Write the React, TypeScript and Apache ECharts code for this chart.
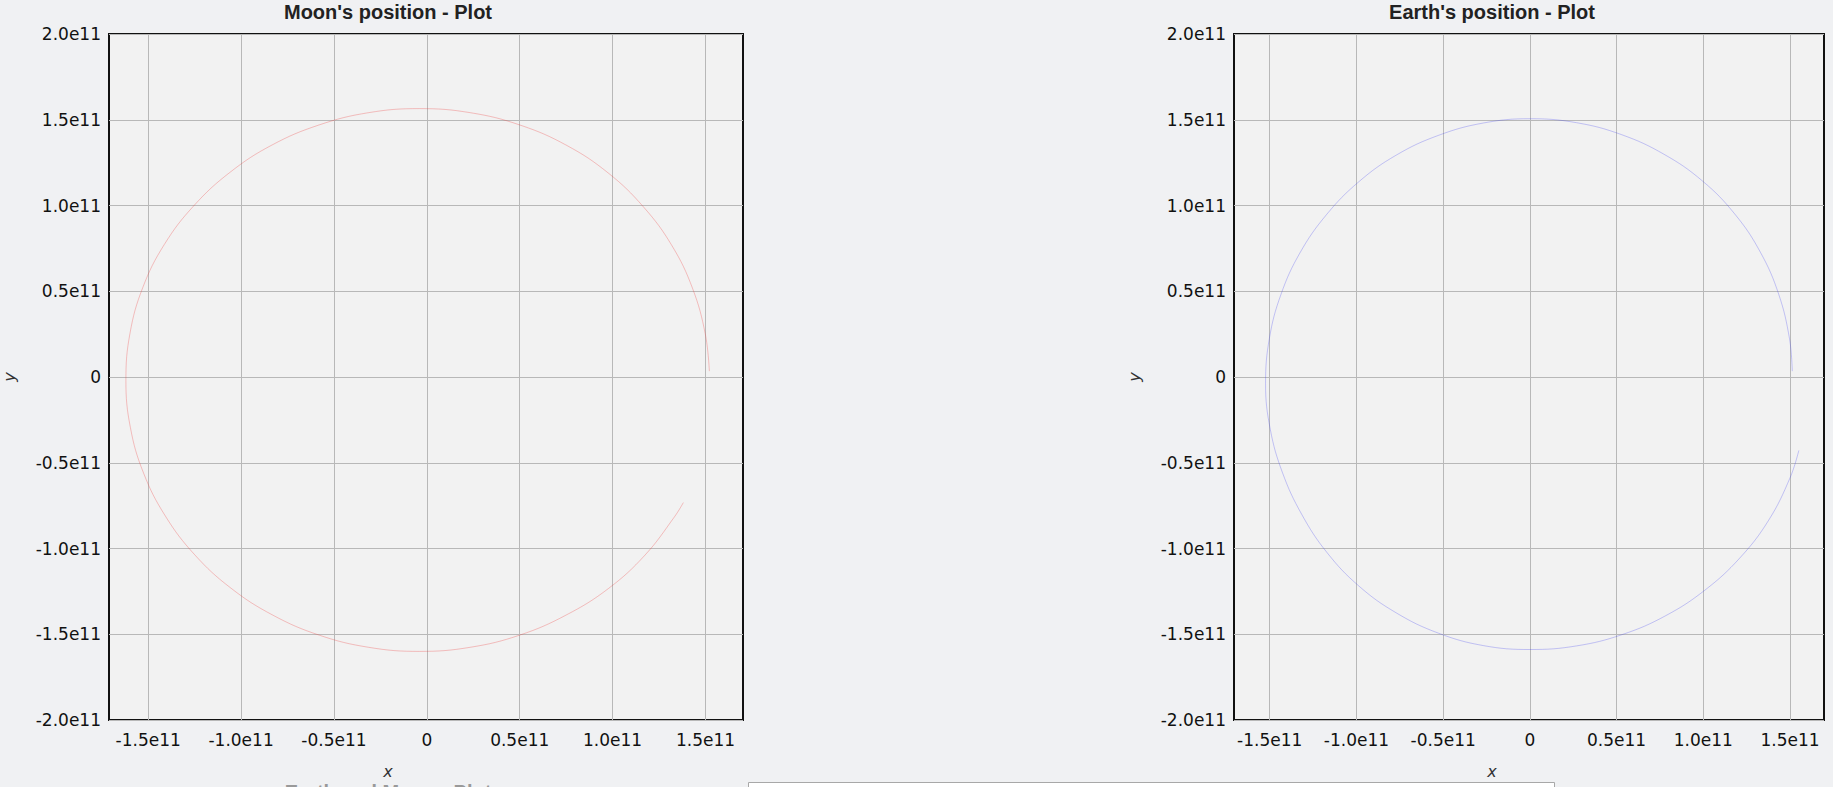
import React, { useEffect, useRef } from "react";
import * as echarts from "echarts";

// Moon trajectory (metres)
const moonX = [
  1.521e11, 1.499e11, 1.431e11, 1.32e11, 1.166e11, 0.976e11, 0.752e11, 0.502e11, 0.235e11, -0.04e11,
  -0.315e11, -0.582e11, -0.833e11, -1.059e11, -1.254e11, -1.413e11, -1.529e11, -1.598e11, -1.62e11,
  -1.596e11, -1.525e11, -1.408e11, -1.25e11, -1.056e11, -0.83e11, -0.58e11, -0.314e11, -0.04e11,
  0.234e11, 0.5e11, 0.75e11, 0.978e11, 1.174e11, 1.334e11, 1.381e11,
];
const moonY = [
  0.034e11, 0.251e11, 0.515e11, 0.765e11, 0.992e11, 1.19e11, 1.351e11, 1.469e11, 1.541e11, 1.565e11,
  1.541e11, 1.469e11, 1.353e11, 1.194e11, 0.999e11, 0.773e11, 0.522e11, 0.255e11, -0.02e11,
  -0.294e11, -0.56e11, -0.81e11, -1.036e11, -1.23e11, -1.388e11, -1.505e11, -1.576e11, -1.6e11,
  -1.576e11, -1.505e11, -1.388e11, -1.233e11, -1.039e11, -0.814e11, -0.732e11,
];

// Earth trajectory (metres)
const earthX = [
  1.513e11, 1.497e11, 1.435e11, 1.329e11, 1.181e11, 0.994e11, 0.773e11, 0.529e11, 0.268e11, 0.0,
  -0.268e11, -0.527e11, -0.77e11, -0.988e11, -1.174e11, -1.325e11, -1.435e11, -1.502e11, -1.524e11,
  -1.497e11, -1.426e11, -1.316e11, -1.171e11, -0.988e11, -0.771e11, -0.529e11, -0.269e11, 0.0,
  0.269e11, 0.532e11, 0.781e11, 1.009e11, 1.21e11, 1.377e11, 1.501e11, 1.551e11,
];
const earthY = [
  0.034e11, 0.224e11, 0.482e11, 0.728e11, 0.951e11, 1.144e11, 1.299e11, 1.413e11, 1.483e11, 1.506e11,
  1.481e11, 1.409e11, 1.294e11, 1.137e11, 0.945e11, 0.725e11, 0.482e11, 0.225e11, -0.04e11,
  -0.304e11, -0.559e11, -0.8e11, -1.022e11, -1.217e11, -1.375e11, -1.493e11, -1.566e11, -1.589e11,
  -1.568e11, -1.502e11, -1.393e11, -1.243e11, -1.056e11, -0.835e11, -0.586e11, -0.428e11,
];

const xTickValues = [-1.5e11, -1.0e11, -0.5e11, 0, 0.5e11, 1.0e11, 1.5e11];
const moonXRange = [-1.711e11, 1.702e11];
const earthXRange = [-1.706e11, 1.696e11];
const yRange = [-2.0e11, 2.0e11];
const yInterval = 0.5e11;

const titles = ["Moon's position - Plot", "Earth's position - Plot"];
const bottomTitle = "Earth and Moon - Plot";

const tickFmt = (v: number) => (v === 0 ? "0" : (v / 1e11).toFixed(1) + "e11");

const labelStyle = {
  fontFamily: "DejaVu Sans",
  fontSize: 17,
  color: "#111",
};

function makeX(gridIndex: number, range: number[]) {
  return {
    type: "value",
    gridIndex,
    min: range[0],
    max: range[1],
    axisLine: { show: false },
    axisTick: { show: false, customValues: xTickValues },
    axisLabel: { ...labelStyle, margin: 11, formatter: tickFmt, customValues: xTickValues },
    splitLine: { show: true, lineStyle: { color: "#b8b8b8", width: 1 } },
  };
}

function makeY(gridIndex: number) {
  return {
    type: "value",
    gridIndex,
    min: yRange[0],
    max: yRange[1],
    interval: yInterval,
    name: "y",
    nameLocation: "middle",
    nameGap: 92,
    nameRotate: 90,
    nameTextStyle: { fontFamily: "DejaVu Sans", fontStyle: "italic", fontSize: 16, color: "#333" },
    axisLine: { show: false },
    axisTick: { show: false },
    axisLabel: { ...labelStyle, margin: 8, formatter: tickFmt },
    splitLine: { show: true, lineStyle: { color: "#b8b8b8", width: 1 } },
  };
}

export default function App() {
  const ref = useRef<HTMLDivElement>(null);
  useEffect(() => {
    if (!ref.current) return;
    const chart = echarts.init(ref.current, undefined, { renderer: "svg" });
    const moonData = moonX.map((x, i) => [x, moonY[i]]);
    const earthData = earthX.map((x, i) => [x, earthY[i]]);
    const titleFont = { fontFamily: "Liberation Sans", fontWeight: "bold", fontSize: 20, fill: "#222" };
    chart.setOption({
      animation: false,
      backgroundColor: "#f0f1f3",
      grid: [
        { left: 105, top: 34, width: 638, height: 686, show: true, backgroundColor: "#f2f2f2", borderColor: "#111", borderWidth: 2 },
        { left: 1234, top: 34, width: 590, height: 686, show: true, backgroundColor: "#f2f2f2", borderColor: "#111", borderWidth: 2 },
      ],
      xAxis: [makeX(0, moonXRange), makeX(1, earthXRange)],
      yAxis: [makeY(0), makeY(1)],
      series: [
        {
          type: "line",
          name: "Moon",
          xAxisIndex: 0,
          yAxisIndex: 0,
          data: moonData,
          smooth: 0.4,
          showSymbol: false,
          lineStyle: { color: "rgba(240,60,60,0.3)", width: 1 },
        },
        {
          type: "line",
          name: "Earth",
          xAxisIndex: 1,
          yAxisIndex: 1,
          data: earthData,
          smooth: 0.4,
          showSymbol: false,
          lineStyle: { color: "rgba(60,60,240,0.28)", width: 1 },
        },
      ],
      graphic: [
        { type: "text", x: 388, y: 12, style: { ...titleFont, text: titles[0], textAlign: "center", textVerticalAlign: "middle" } },
        { type: "text", x: 1492, y: 12, style: { ...titleFont, text: titles[1], textAlign: "center", textVerticalAlign: "middle" } },
        { type: "text", x: 388, y: 771, style: { fontFamily: "DejaVu Sans", fontStyle: "italic", fontSize: 16, fill: "#333", text: "x", textAlign: "center", textVerticalAlign: "middle" } },
        { type: "text", x: 1492, y: 771, style: { fontFamily: "DejaVu Sans", fontStyle: "italic", fontSize: 16, fill: "#333", text: "x", textAlign: "center", textVerticalAlign: "middle" } },
        { type: "text", x: 388, y: 782, style: { ...titleFont, fill: "#999", text: bottomTitle, textAlign: "center", textVerticalAlign: "top" } },
        { type: "rect", shape: { x: 748.5, y: 782.5, width: 806, height: 12 }, style: { fill: "#ffffff", stroke: "#a8a8a8", lineWidth: 1 } },
      ],
    });
    return () => chart.dispose();
  }, []);
  return <div ref={ref} style={{ position: "fixed", left: 0, top: 0, width: 1833, height: 787 }} />;
}
